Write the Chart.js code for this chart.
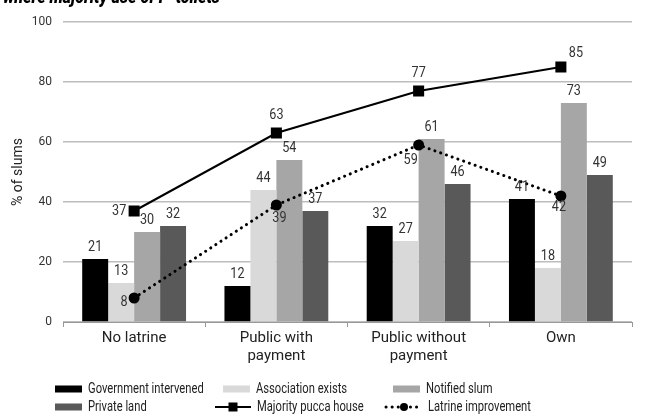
<!DOCTYPE html>
<html>
<head>
<meta charset="utf-8">
<script src="https://cdn.jsdelivr.net/npm/chart.js@4.4.0/dist/chart.umd.min.js"></script>
<style>
  html, body { margin: 0; padding: 0; background: #fff; overflow: hidden; }
  #wrap { position: relative; width: 646px; height: 420px; }
  #title { position: absolute; left: 3px; top: -15px; font: italic 900 19px Roboto, sans-serif; color: #000; white-space: nowrap; transform: scaleX(0.84); transform-origin: left top; }
</style>
</head>
<body>
<div id="wrap">
  <canvas id="slumChart" width="646" height="420"></canvas>
  <div id="title">where majority use of P-toilets</div>
</div>
<script>
// Data
var categories = [['No latrine'], ['Public with', 'payment'], ['Public without', 'payment'], ['Own']];
var govIntervened = [21, 12, 32, 41];
var assocExists = [13, 44, 27, 18];
var notifiedSlum = [30, 54, 61, 73];
var privateLand = [32, 37, 46, 49];
var puccaHouse = [37, 63, 77, 85];
var latrineImprovement = [8, 39, 59, 42];
var yTicks = [0, 20, 40, 60, 80, 100];

var FONT = 'Roboto, sans-serif';

// draw text squeezed horizontally (the original uses a condensed face)
function squeezeText(c, text, x, y, sx) {
    c.save();
    c.translate(x, y);
    c.scale(sx, 1);
    c.fillText(text, 0, 0);
    c.restore();
}

document.addEventListener('DOMContentLoaded', function() {
    var ctx = document.getElementById('slumChart').getContext('2d');

    // label offsets for the two lines (dx, dy) per point
    var lineLabelOffsets = {
        4: [[-15, 0], [0, -18], [0, -18], [15, -14]],
        5: [[-10, 4], [3, 13], [-8, 15], [-2, 11]]
    };

    // Value labels on bars and line points
    var valueLabels = {
        id: 'valueLabels',
        afterDatasetsDraw: function(chart) {
            var c = chart.ctx;
            c.save();
            c.font = '14px ' + FONT;
            c.fillStyle = '#333';
            c.textAlign = 'center';
            c.textBaseline = 'middle';
            chart.data.datasets.forEach(function(ds, i) {
                var meta = chart.getDatasetMeta(i);
                meta.data.forEach(function(el, j) {
                    var x = el.x, y = el.y;
                    if (ds.type === 'line') {
                        x += lineLabelOffsets[i][j][0];
                        y += lineLabelOffsets[i][j][1];
                    } else {
                        y -= 12;
                    }
                    squeezeText(c, String(ds.data[j]), x, y, 0.9);
                });
            });
            c.restore();
        }
    };

    // Legend drawn as two rows of three
    var legendSlots = [[55, 389], [223, 389], [393, 389], [55, 407], [215, 407], [386, 407]];
    var customLegend = {
        id: 'customLegend',
        afterDraw: function(chart) {
            var c = chart.ctx;
            c.save();
            c.font = '14px ' + FONT;
            c.textBaseline = 'middle';
            c.textAlign = 'left';
            chart.data.datasets.forEach(function(ds, i) {
                var x = legendSlots[i][0], y = legendSlots[i][1];
                var tx;
                if (ds.type === 'line') {
                    var w = 36;
                    c.strokeStyle = '#000';
                    c.lineWidth = ds.borderWidth;
                    c.lineCap = ds.borderCapStyle || 'butt';
                    c.setLineDash(ds.borderDash || []);
                    c.beginPath();
                    c.moveTo(x, y);
                    c.lineTo(x + w, y);
                    c.stroke();
                    c.setLineDash([]);
                    c.fillStyle = '#000';
                    if (ds.pointStyle === 'rect') {
                        c.fillRect(x + w / 2 - 4.5, y - 4.5, 9, 9);
                    } else {
                        c.beginPath();
                        c.arc(x + w / 2, y, 4, 0, Math.PI * 2);
                        c.fill();
                    }
                    tx = x + w + 6;
                } else {
                    c.fillStyle = ds.backgroundColor;
                    c.fillRect(x, y - 3.5, 27, 7);
                    tx = x + 33;
                }
                c.fillStyle = '#222';
                squeezeText(c, ds.label, tx, y, 0.8);
            });
            c.restore();
        }
    };

    var slumChart = new Chart(ctx, {
        type: 'bar',
        data: {
            labels: categories,
            datasets: [
                { label: 'Government intervened', data: govIntervened, backgroundColor: '#000000', order: 2 },
                { label: 'Association exists', data: assocExists, backgroundColor: '#d9d9d9', order: 2 },
                { label: 'Notified slum', data: notifiedSlum, backgroundColor: '#a6a6a6', order: 2 },
                { label: 'Private land', data: privateLand, backgroundColor: '#595959', order: 2 },
                {
                    type: 'line', label: 'Majority pucca house', data: puccaHouse, order: 1,
                    borderColor: '#000', backgroundColor: '#000', borderWidth: 2,
                    pointStyle: 'rect', pointRadius: 6.4, pointHoverRadius: 6.4
                },
                {
                    type: 'line', label: 'Latrine improvement', data: latrineImprovement, order: 1,
                    borderColor: '#000', backgroundColor: '#000', borderWidth: 3,
                    borderDash: [0.1, 6], borderCapStyle: 'round',
                    pointStyle: 'circle', pointRadius: 4, pointHoverRadius: 4
                }
            ]
        },
        options: {
            responsive: false,
            animation: false,
            datasets: {
                bar: { barPercentage: 1, categoryPercentage: 0.73 }
            },
            layout: { padding: { top: 22, right: 14, left: 0, bottom: 0 } },
            plugins: {
                legend: { display: false },
                tooltip: { enabled: false }
            },
            scales: {
                x: {
                    grid: { display: true, drawOnChartArea: false, offset: true, tickLength: 5, color: '#999' },
                    border: { color: '#999' },
                    ticks: { color: '#222', font: { family: FONT, size: 15 }, padding: 2, maxRotation: 0 },
                    afterFit: function(scale) { scale.height = 98; }
                },
                y: {
                    min: 0, max: 100,
                    afterBuildTicks: function(scale) {
                        scale.ticks = yTicks.map(function(v) { return { value: v }; });
                    },
                    grid: { color: '#bdbdbd', lineWidth: 1.5, drawTicks: false },
                    border: { display: false },
                    ticks: { color: '#333', font: { family: FONT, size: 12 }, padding: 11 },
                    title: { display: true, text: '% of slums', color: '#222', font: { family: FONT, size: 14 }, padding: { top: 10, bottom: 0 } },
                    afterFit: function(scale) { scale.width = 63; }
                }
            }
        },
        plugins: [valueLabels, customLegend]
    });
});
</script>
</body>
</html>
